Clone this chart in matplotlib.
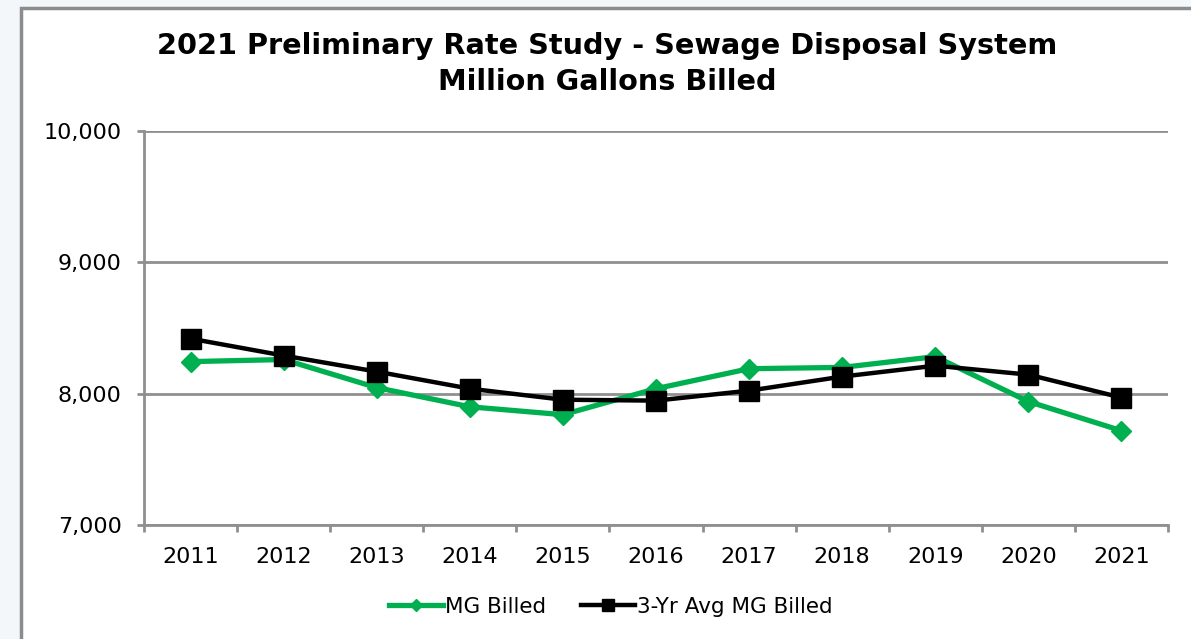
import matplotlib.pyplot as plt
import numpy as np
from matplotlib.patches import Rectangle

years = ["2011", "2012", "2013", "2014", "2015", "2016", "2017", "2018", "2019", "2020", "2021"]
mg_billed = [8244, 8260, 8046, 7900, 7840, 8038, 8190, 8200, 8282, 7940, 7718]
avg_3yr = [8419, 8290, 8168, 8038, 7954, 7947, 8023, 8130, 8213, 8145, 7970]
y_ticks = [7000, 8000, 9000, 10000]

grid_col = "#8f8f8f"
green = "#00b050"

fig = plt.figure(figsize=(11.91, 6.39), dpi=100)
fig.patch.set_facecolor("#f3f7fa")
# white chart frame, drawn behind the axes
fig.patches.append(Rectangle((21 / 1191, -0.01), 1.02, 1 - 8 / 639 + 0.01,
                             transform=fig.transFigure, facecolor="white",
                             edgecolor="#8c8c8c", linewidth=2.5, zorder=-10))

ax = fig.add_axes([144 / 1191, 1 - 525 / 639, (1168 - 144) / 1191, (525 - 131) / 639])
ax.set_zorder(5)
x = np.arange(len(years))

ax.plot(x, mg_billed, color=green, lw=3.8, marker="D", ms=10, label="MG Billed")
ax.plot(x, avg_3yr, color="black", lw=3.2, marker="s", ms=14, label="3-Yr Avg MG Billed")

ax.set_xlim(-0.5, len(years) - 0.5)
ax.set_ylim(7000, 10000)
ax.set_yticks(y_ticks)
ax.set_yticklabels([f"{v:,}" for v in y_ticks])
ax.set_xticks(x)
ax.set_xticklabels(years)
ax.set_xticks(np.arange(-0.5, len(years)), minor=True)
ax.tick_params(axis="x", which="major", length=0, pad=16, labelsize=16)
ax.tick_params(axis="x", which="minor", length=5, width=2, color=grid_col, direction="out")
ax.tick_params(axis="y", length=5, width=2, color=grid_col, pad=11, labelsize=16)

ax.grid(axis="y", color=grid_col, lw=2)
ax.set_axisbelow(True)
for s in ["top", "right"]:
    ax.spines[s].set_visible(False)
for s in ["left", "bottom"]:
    ax.spines[s].set_color(grid_col)
    ax.spines[s].set_linewidth(2)

fig.text(0.51, 1 - 46 / 639, "2021 Preliminary Rate Study - Sewage Disposal System",
         ha="center", va="center", fontsize=20.7, fontweight="bold")
fig.text(0.51, 1 - 82 / 639, "Million Gallons Billed",
         ha="center", va="center", fontsize=20.7, fontweight="bold")

fig.legend(loc="center", bbox_to_anchor=(0.513, 1 - 607 / 639), ncol=2, frameon=False,
           fontsize=15.5, handlelength=2.5, handletextpad=0.1, columnspacing=1.6,
           markerscale=0.6)

fig.savefig("out.png", dpi=100, facecolor=fig.get_facecolor())
